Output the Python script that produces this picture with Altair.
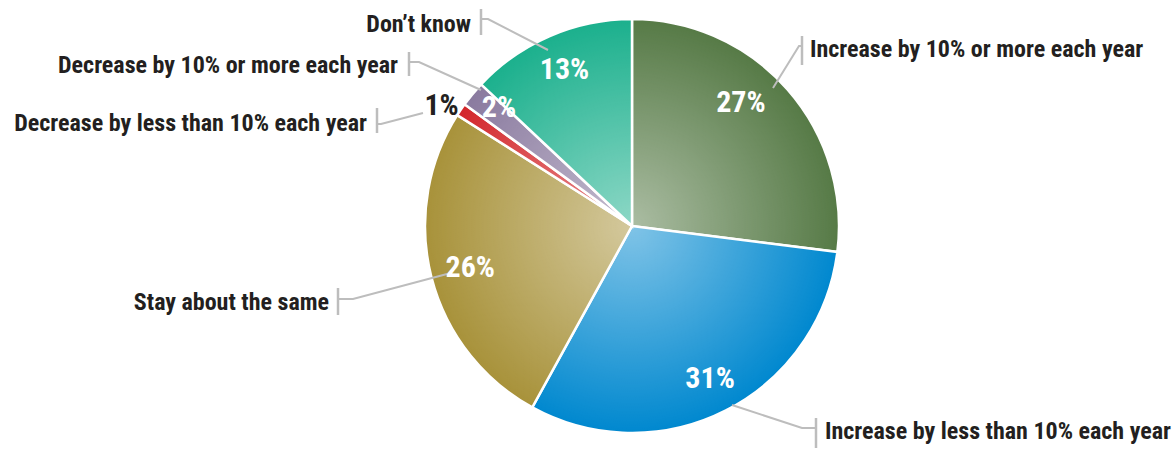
import math
import altair as alt
import pandas as pd

# ---- data ----
categories = [
    "Increase by 10% or more each year",
    "Increase by less than 10% each year",
    "Stay about the same",
    "Decrease by less than 10% each year",
    "Decrease by 10% or more each year",
    "Don\u2019t know",
]
values = [27, 31, 26, 1, 2, 13]
pct_labels = ["27%", "31%", "26%", "1%", "2%", "13%"]

# ---- styles / layout ----
colors = ["#567a46", "#0088cf", "#a8923a", "#d3262a", "#8a7a9f", "#1bb08d"]
pct_colors = ["white", "white", "white", "#231f20", "white", "white"]
W, H = 1175, 450
CX, CY, R = 632, 226, 207
FONT = "Liberation Sans Narrow, Roboto Condensed, DejaVu Sans Condensed, sans-serif"
# label radius / angular tweak for percentage labels
pct_radius = [164, 172, 167, 225, 178, 170]
pct_tweak = [-7, 0, 0, -2, 2, 0]
# outer label anchors: (x, baseline y, align)
outer_anchor = [(810, 57, "left"), (825, 439, "left"), (329, 310, "right"),
                (367, 131, "right"), (398, 73, "right"), (471, 32, "right")]
# leader bars (x, y1, y2) and leader paths
bars = [(802, 36, 65), (816, 418, 448), (338, 288, 315),
        (377, 108, 133), (409, 52, 76), (481, 9, 35)]
paths = [
    [(802, 46), (799, 46), (773, 88)],
    [(816, 428), (802, 428), (732, 405)],
    [(338, 299), (353, 299), (447, 274)],
    [(377, 124), (381, 124), (423, 113)],
    [(409, 62), (419, 62), (481, 90)],
    [(481, 19), (488, 19), (548, 50)],
]

df = pd.DataFrame({"idx": range(len(categories)), "category": categories, "value": values})

# percentage label positions from slice mid-angles
cum = 0
rows = []
for i, v in enumerate(values):
    mid = (cum + v / 2) / sum(values) * 360 + pct_tweak[i]
    cum += v
    a = math.radians(mid)
    rows.append({"t": pct_labels[i], "c": pct_colors[i],
                 "x": CX + pct_radius[i] * math.sin(a),
                 "y": CY - pct_radius[i] * math.cos(a)})
pct_df = pd.DataFrame(rows)

line_rows = []
for i, pts in enumerate(paths):
    for j, (x, y) in enumerate(pts):
        line_rows.append({"cat": categories[i], "p": j, "x": x, "y": y})
line_df = pd.DataFrame(line_rows)

bar_df = pd.DataFrame([{"cat": categories[i], "x": b[0], "y": b[1], "y2": b[2]} for i, b in enumerate(bars)])

lab_df = pd.DataFrame([{"t": categories[i], "x": a[0], "y": a[1], "al": a[2]} for i, a in enumerate(outer_anchor)])

pie = alt.Chart(df).mark_arc(outerRadius=R, stroke="white", strokeWidth=2.5).encode(
    theta=alt.Theta("value:Q", stack=True),
    order=alt.Order("idx:Q"),
    color=alt.Color("category:N", scale=alt.Scale(domain=categories, range=colors), legend=None),
    x=alt.value(CX),
    y=alt.value(CY),
)

grad = {
    "gradient": "radial",
    "x1": 0.5, "y1": 0.5, "r1": 0,
    "x2": 0.5, "y2": 0.5, "r2": 0.5,
    "stops": [
        {"offset": 0, "color": "rgba(255,255,255,0.5)"},
        {"offset": 1, "color": "rgba(255,255,255,0)"},
    ],
}
overlay = alt.Chart(alt.Data(values=[{"a": 1}])).mark_arc(
    outerRadius=R, theta=0, theta2=2 * math.pi, fill=grad, strokeWidth=0
).encode(x=alt.value(CX), y=alt.value(CY))

pct = alt.Chart(pct_df).mark_text(font=FONT, fontSize=30, fontWeight="bold", baseline="middle", align="center").encode(
    x=alt.X("x:Q", scale=None, axis=None),
    y=alt.Y("y:Q", scale=None, axis=None),
    text="t:N",
    color=alt.Color("c:N", scale=None),
)

leaders = alt.Chart(line_df).mark_line(color="#bdbdbd", strokeWidth=2).encode(
    x=alt.X("x:Q", scale=None, axis=None),
    y=alt.Y("y:Q", scale=None, axis=None),
    detail="cat:N",
    order="p:Q",
)
bar_marks = alt.Chart(bar_df).mark_rule(color="#bdbdbd", strokeWidth=2.5).encode(
    x=alt.X("x:Q", scale=None, axis=None),
    y=alt.Y("y:Q", scale=None, axis=None),
    y2="y2:Q",
)

lab_left = alt.Chart(lab_df).transform_filter("datum.al == 'left'").mark_text(
    font=FONT, fontSize=24, fontWeight="bold", align="left", baseline="alphabetic", color="#231f20"
).encode(x=alt.X("x:Q", scale=None, axis=None), y=alt.Y("y:Q", scale=None, axis=None), text="t:N")
lab_right = alt.Chart(lab_df).transform_filter("datum.al == 'right'").mark_text(
    font=FONT, fontSize=24, fontWeight="bold", align="right", baseline="alphabetic", color="#231f20"
).encode(x=alt.X("x:Q", scale=None, axis=None), y=alt.Y("y:Q", scale=None, axis=None), text="t:N")

chart = alt.layer(pie, overlay, leaders, bar_marks, pct, lab_left, lab_right).properties(
    width=W, height=H, padding=0, autosize=alt.AutoSizeParams(type="none"),
    background="white",
).configure_view(stroke=None)

chart.save("out.html", embed_options={"renderer": "svg", "actions": False})
